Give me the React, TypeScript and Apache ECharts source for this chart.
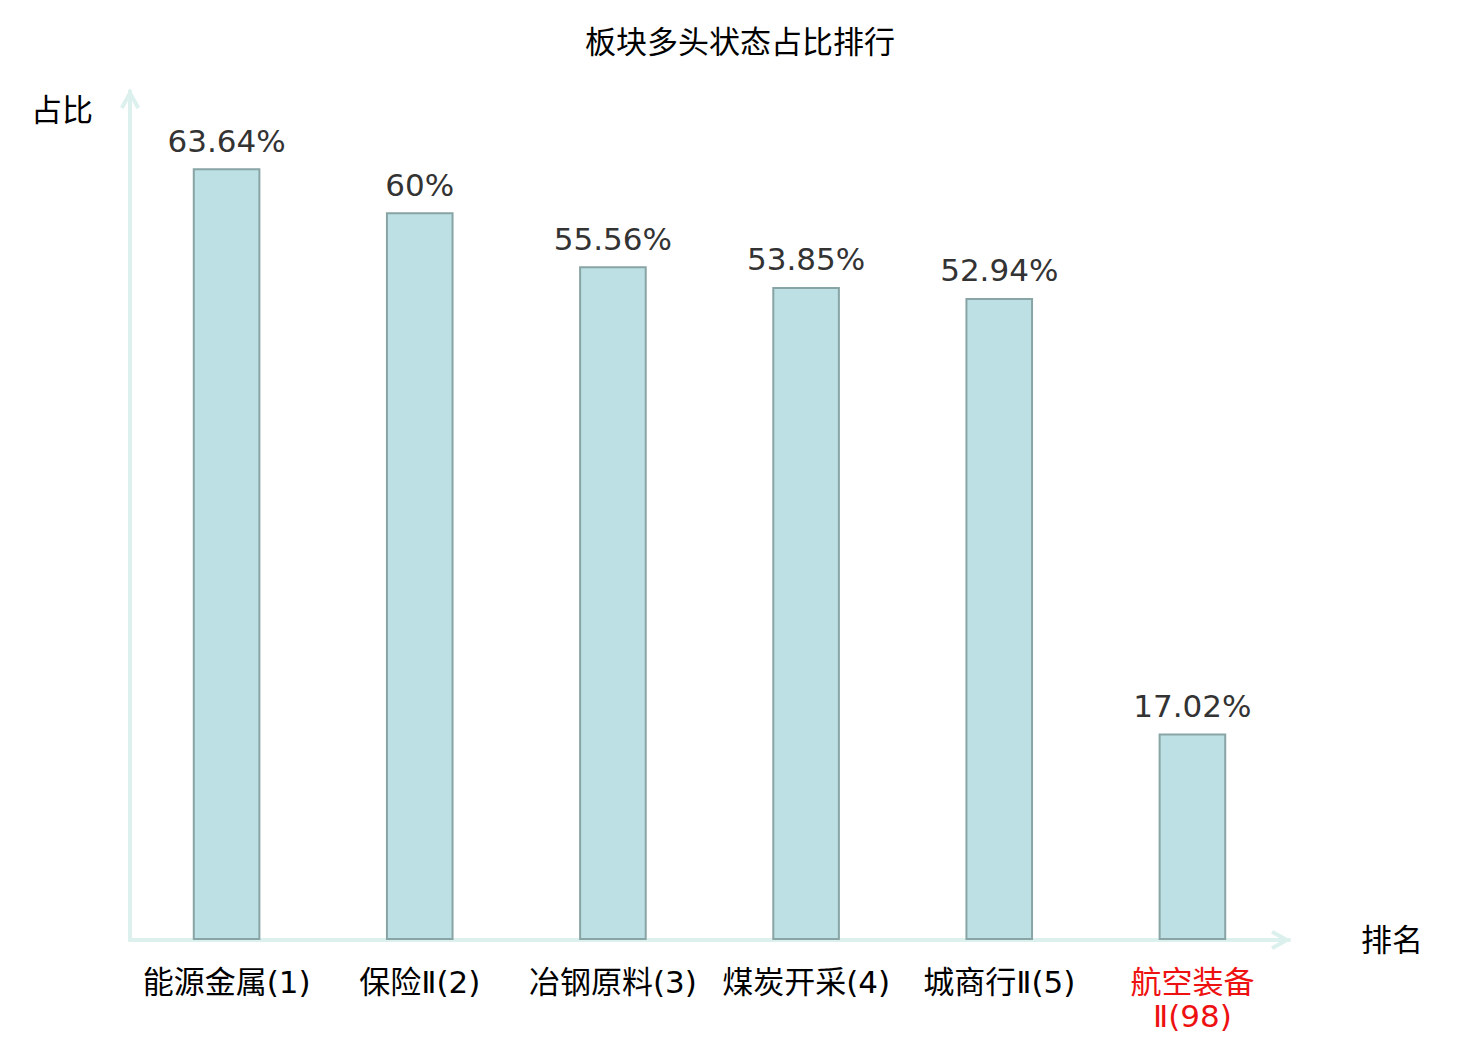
import React, { useEffect, useRef } from "react";
import * as echarts from "echarts";

const categories = ["能源金属(1)", "保险Ⅱ(2)", "冶钢原料(3)", "煤炭开采(4)", "城商行Ⅱ(5)", "航空装备Ⅱ(98)"];
const values = [63.64, 60, 55.56, 53.85, 52.94, 17.02];
const highlightIndex = 5;

const chevron = "path://M10,0 L20,18 L16.5,19.94 L10,8.25 L3.5,19.94 L0,18 Z";
const FONT = "'DejaVu Sans', 'Noto Sans CJK SC', sans-serif";

export default function App() {
  const ref = useRef<HTMLDivElement>(null);
  useEffect(() => {
    const chart = echarts.init(ref.current!, null, { renderer: "svg" });
    const axisLine = {
      show: true,
      symbol: ["none", chevron],
      symbolSize: [20, 20],
      symbolOffset: [0, -8],
      lineStyle: { color: "#dcf1ee", width: 4 },
    };
    chart.setOption({
      animation: false,
      backgroundColor: "#fff",
      textStyle: { fontFamily: FONT },
      title: {
        text: "板块多头状态占比排行",
        left: "center",
        top: 26,
        padding: 0,
        textStyle: { fontSize: 31, fontWeight: "normal", color: "#000", fontFamily: FONT },
      },
      grid: { left: 130, right: 191, top: 91, bottom: 100 },
      xAxis: {
        type: "category",
        data: categories,
        name: "排名",
        nameLocation: "end",
        nameGap: 72,
        nameTextStyle: { fontSize: 31, color: "#000", fontFamily: FONT },
        axisLine,
        axisTick: { show: false },
        axisLabel: {
          interval: 0,
          margin: 25,
          fontSize: 31,
          lineHeight: 34,
          fontFamily: FONT,
          formatter: (v: string) => (v.length > 8 ? v.replace("Ⅱ", "\nⅡ") : v),
          color: (_v: any, i: number) => (i === highlightIndex ? "#ee1111" : "#000"),
        },
        splitLine: { show: false },
      },
      yAxis: {
        type: "value",
        min: 0,
        max: 70,
        name: "占比",
        nameLocation: "end",
        nameGap: -34,
        nameTextStyle: { fontSize: 31, color: "#000", align: "right", padding: [0, 37, 0, 0], fontFamily: FONT },
        axisLine,
        axisTick: { show: false },
        axisLabel: { show: false },
        splitLine: { show: false },
      },
      series: [
        {
          type: "bar",
          data: values,
          barWidth: "35%",
          itemStyle: { color: "#bce0e3", borderColor: "#88a4a5", borderWidth: 2 },
          label: {
            show: true,
            position: "top",
            distance: 12,
            fontSize: 31,
            color: "#333",
            fontFamily: FONT,
            formatter: (p: any) => p.value + "%",
          },
        },
      ],
    });
    return () => chart.dispose();
  }, []);
  return <div ref={ref} style={{ position: "absolute", left: 0, top: 0, width: 1480, height: 1040 }} />;
}
